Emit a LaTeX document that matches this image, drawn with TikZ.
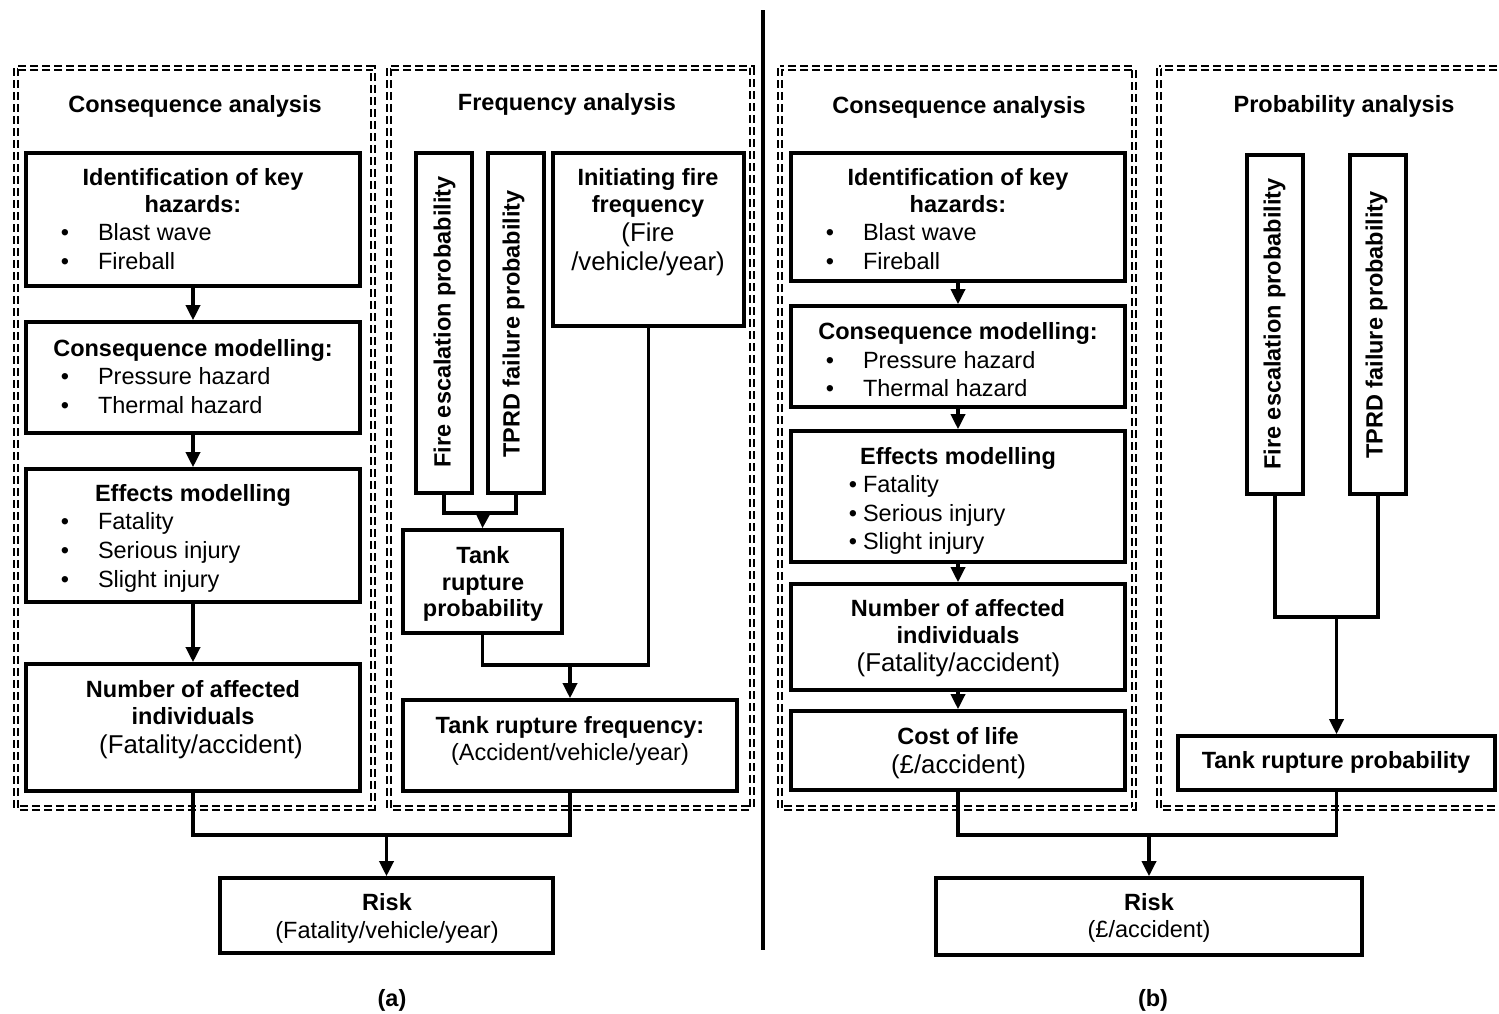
\documentclass[tikz,border=0pt]{standalone}
\usepackage{fontspec}
\setmainfont{Liberation Sans}
\usetikzlibrary{arrows.meta}
\newcommand\myfs{\fontsize{23.5pt}{28pt}\selectfont}
\newcommand\mybigfs{\fontsize{25.8pt}{30pt}\selectfont}
\newcounter{tn}
\newcommand\Txt[4][]{\stepcounter{tn}\node[txt,#1] (t\arabic{tn}) at (#2,#3) {#4};}
\newcommand\Bul[4]{\Txt{#1}{#3}{\textbullet}\Txt[anchor=west]{#2}{#3}{#4}}
\begin{document}
\begin{tikzpicture}[x=1pt,y=-1pt,
  txt/.style={font=\myfs, inner sep=0pt, outer sep=0pt, text height=17pt, text depth=0pt},
  bf/.style={font=\myfs\bfseries},
  big/.style={font=\mybigfs, text height=18.6pt},
  rot/.style={font=\myfs\bfseries, rotate=90},
  box/.style={draw, line width=3.6pt, inner sep=0pt, fill=white},
  ln/.style={line width=3.4pt},
  arr/.style={ln, -{Triangle[width=14pt,length=15pt]}},
  cont/.style={draw, line width=1.8pt, double=white, double distance=2pt, dash pattern=on 8pt off 4pt}]
\useasboundingbox (0,0) rectangle (1499,1013);
\fill[white] (0,0) rectangle (1499,1013);

% dashed containers
\draw[cont] (16,68) rectangle (373,808);
\draw[cont] (389,68) rectangle (752,808);
\draw[cont] (780,68) rectangle (1134,808);
\draw[cont] (1159,68) rectangle (1530,808);

% divider
\draw[line width=4pt] (763,10) -- (763,950);

% ---- panel (a) boxes
\node[box, minimum width=334pt, minimum height=133pt] (idA) at (193,219.5) {};
\node[box, minimum width=334pt, minimum height=111pt] (cmA) at (193,377.5) {};
\node[box, minimum width=334pt, minimum height=133pt] (emA) at (193,535.5) {};
\node[box, minimum width=334pt, minimum height=127pt] (naA) at (193,727.5) {};
\node[box, minimum width=56pt, minimum height=340pt] (feA) at (444,323) {};
\node[box, minimum width=56pt, minimum height=340pt] (tpA) at (516,323) {};
\node[box, minimum width=191pt, minimum height=173pt] (ifA) at (648.5,239.5) {};
\node[box, minimum width=159pt, minimum height=103pt] (trpA) at (482.5,581.5) {};
\node[box, minimum width=334pt, minimum height=91pt] (trfA) at (570,745.5) {};
\node[box, minimum width=333pt, minimum height=75pt] (riskA) at (386.5,915.5) {};

% ---- panel (b) boxes
\node[box, minimum width=334pt, minimum height=128pt] (idB) at (958,217) {};
\node[box, minimum width=334pt, minimum height=101pt] (cmB) at (958,356.5) {};
\node[box, minimum width=334pt, minimum height=131pt] (emB) at (958,496.5) {};
\node[box, minimum width=334pt, minimum height=106pt] (naB) at (958,637) {};
\node[box, minimum width=334pt, minimum height=79pt] (colB) at (958,750.5) {};
\node[box, minimum width=56pt, minimum height=339pt] (feB) at (1275,324.5) {};
\node[box, minimum width=56pt, minimum height=339pt] (tpB) at (1378,324.5) {};
\node[box, minimum width=317pt, minimum height=54pt] (trpB) at (1336.5,763) {};
\node[box, minimum width=426pt, minimum height=77pt] (riskB) at (1149,916.5) {};

% ---- connectors (a)
\draw[arr] (idA.south) -- (cmA.north);
\draw[arr] (cmA.south) -- (emA.north);
\draw[arr] (emA.south) -- (naA.north);
\coordinate (jA1) at (483,513);
\draw[ln] (feA.south) |- (jA1) -| (tpA.south);
\draw[arr] (jA1) -- (trpA.north);
\coordinate (jA2) at (570,665);
\draw[ln] (trpA.south) |- (jA2) -| (ifA.south);
\draw[arr] (jA2) -- (trfA.north);
\coordinate (jA3) at (386.5,835);
\draw[ln] (naA.south) |- (jA3) -| (trfA.south);
\draw[arr] (jA3) -- (riskA.north);

% ---- connectors (b)
\draw[arr] (idB.south) -- (cmB.north);
\draw[arr] (cmB.south) -- (emB.north);
\draw[arr] (emB.south) -- (naB.north);
\draw[arr] (naB.south) -- (colB.north);
\coordinate (jB1) at (1336.5,617);
\draw[ln] (feB.south) |- (jB1) -| (tpB.south);
\draw[arr] (jB1) -- (trpB.north);
\coordinate (jB2) at (1149,835);
\draw[ln] (colB.south) |- (jB2) -| (trpB.south);
\draw[arr] (jB2) -- (riskB.north);

% ---- texts (a)
\Txt[bf]{195}{104}{Consequence analysis}
\Txt[bf]{567}{102}{Frequency analysis}
\Txt[bf]{193}{177}{Identification of key}
\Txt[bf]{193}{204}{hazards:}
\Bul{65}{98}{232}{Blast wave}
\Bul{65}{98}{261}{Fireball}
\Txt[bf]{193}{348}{Consequence modelling:}
\Bul{65}{98}{376}{Pressure hazard}
\Bul{65}{98}{405}{Thermal hazard}
\Txt[bf]{193}{493}{Effects modelling}
\Bul{65}{98}{521}{Fatality}
\Bul{65}{98}{550}{Serious injury}
\Bul{65}{98}{579}{Slight injury}
\Txt[bf]{193}{689}{Number of affected}
\Txt[bf]{193}{716}{individuals}
\Txt[big]{201}{744}{(Fatality/accident)}
\Txt[rot]{442}{322}{Fire escalation probability}
\Txt[rot]{511}{324}{TPRD failure probability}
\Txt[bf]{648}{177}{Initiating fire}
\Txt[bf]{648}{204}{frequency}
\Txt[big]{648}{232}{(Fire}
\Txt[big]{648}{261}{/vehicle/year)}
\Txt[bf]{483}{555}{Tank}
\Txt[bf]{483}{582}{rupture}
\Txt[bf]{483}{608}{probability}
\Txt[bf]{570}{725}{Tank rupture frequency:}
\Txt{570}{752}{(Accident/vehicle/year)}
\Txt[bf]{387}{902}{Risk}
\Txt{387}{930}{(Fatality/vehicle/year)}
\Txt[bf]{392}{998}{(a)}

% ---- texts (b)
\Txt[bf]{959}{105}{Consequence analysis}
\Txt[bf]{1344}{104}{Probability analysis}
\Txt[bf]{958}{177}{Identification of key}
\Txt[bf]{958}{204}{hazards:}
\Bul{830}{863}{232}{Blast wave}
\Bul{830}{863}{261}{Fireball}
\Txt[bf]{958}{331}{Consequence modelling:}
\Bul{830}{863}{360}{Pressure hazard}
\Bul{830}{863}{388}{Thermal hazard}
\Txt[bf]{958}{456}{Effects modelling}
\Bul{853}{863}{484}{Fatality}
\Bul{853}{863}{513}{Serious injury}
\Bul{853}{863}{541}{Slight injury}
\Txt[bf]{958}{608}{Number of affected}
\Txt[bf]{958}{635}{individuals}
\Txt[big]{958.5}{662}{(Fatality/accident)}
\Txt[bf]{958}{736}{Cost of life}
\Txt[big]{958.5}{764}{(\textsterling/accident)}
\Txt[rot]{1272}{324}{Fire escalation probability}
\Txt[rot]{1374}{325}{TPRD failure probability}
\Txt[bf]{1336}{760}{Tank rupture probability}
\Txt[bf]{1149}{902}{Risk}
\Txt{1149}{929}{(\textsterling/accident)}
\Txt[bf]{1153}{998}{(b)}
\end{tikzpicture}
\end{document}
